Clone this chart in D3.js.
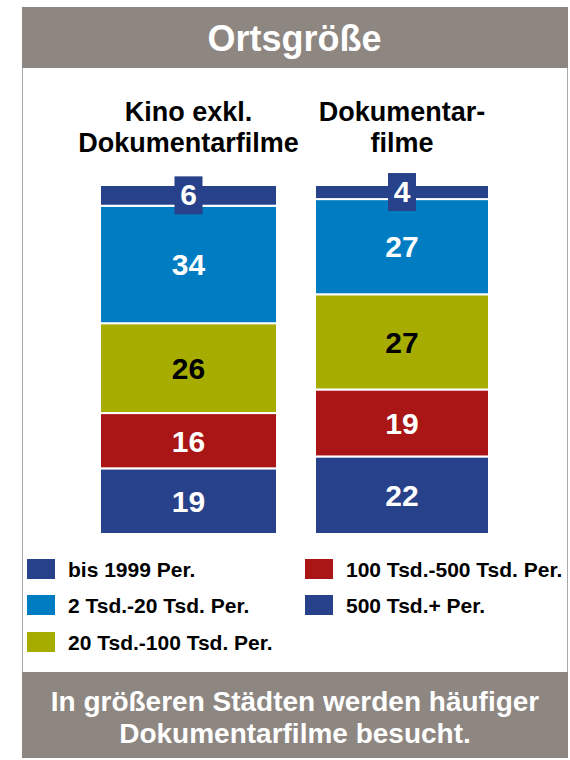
<!DOCTYPE html>
<html>
<head>
<meta charset="utf-8">
<script src="https://cdn.jsdelivr.net/npm/d3@7"></script>
<style>
  body { margin: 0; background: #fff; }
  text { font-family: "Liberation Sans", Arial, sans-serif; font-weight: bold; }
</style>
</head>
<body>
<script>
'use strict';

// data =======================
var groups = ['kino', 'doku'];
var groupTitles = [['Kino exkl.', 'Dokumentarfilme'], ['Dokumentar-', 'filme']];
// stacked bottom -> top
var seriesKeys = ['s500', 's100', 's20', 's2', 'bis'];
var seriesNames = ['500 Tsd.+ Per.', '100 Tsd.-500 Tsd. Per.', '20 Tsd.-100 Tsd. Per.', '2 Tsd.-20 Tsd. Per.', 'bis 1999 Per.'];
var seriesColors = ['#27418a', '#aa1515', '#a6ad00', '#007cc2', '#27418a'];
var kinoValues = [19, 16, 26, 34, 6];
var dokuValues = [22, 19, 27, 27, 4];
// legend order as in picture
var legendOrder = ['bis', 's2', 's20', 's100', 's500'];

var width = 570, height = 760;
var gray = '#8d8681';

var svg = d3.select('body').append('svg')
  .attr('width', width)
  .attr('height', height);

// frame
svg.append('rect')
  .attr('x', 22.5).attr('y', 7.5)
  .attr('width', 545).attr('height', 750)
  .attr('fill', '#fff')
  .attr('stroke', '#a9a9a9')
  .attr('stroke-width', 1);

// header
svg.append('rect').attr('x', 22).attr('y', 7).attr('width', 546).attr('height', 61).attr('fill', gray);
svg.append('text')
  .attr('x', 294.5).attr('y', 51)
  .attr('text-anchor', 'middle')
  .attr('fill', '#fff')
  .style('font-size', '36px')
  .text('Ortsgröße');

// footer
svg.append('rect').attr('x', 22).attr('y', 672).attr('width', 546).attr('height', 86).attr('fill', gray);
svg.append('text')
  .attr('x', 295).attr('y', 711)
  .attr('text-anchor', 'middle')
  .attr('fill', '#fff')
  .style('font-size', '28px')
  .text('In größeren Städten werden häufiger');
svg.append('text')
  .attr('x', 295).attr('y', 743)
  .attr('text-anchor', 'middle')
  .attr('fill', '#fff')
  .style('font-size', '28px')
  .text('Dokumentarfilme besucht.');

// stacked bars ===============
var table = groups.map(function (g, i) {
  var vals = i === 0 ? kinoValues : dokuValues;
  var row = { group: g };
  seriesKeys.forEach(function (k, j) { row[k] = vals[j]; });
  return row;
});

var stack = d3.stack().keys(seriesKeys).offset(d3.stackOffsetExpand);
var layers = stack(table);

var x = d3.scaleOrdinal().domain(groups).range([100, 315]);
var barW = d3.scaleOrdinal().domain(groups).range([177, 174]);
var y = d3.scaleLinear().domain([0, 1]).range([534, 185]);
var color = d3.scaleOrdinal().domain(seriesKeys).range(seriesColors);

var layerG = svg.selectAll('g.layer')
  .data(layers)
  .enter().append('g')
  .attr('class', 'layer');

layerG.selectAll('rect')
  .data(function (d) { return d.map(function (p) { p.key = d.key; return p; }); })
  .enter().append('rect')
  .attr('x', function (d) { return x(d.data.group); })
  .attr('width', function (d) { return barW(d.data.group); })
  .attr('y', function (d) { return y(d[1]); })
  .attr('height', function (d) { return y(d[0]) - y(d[1]); })
  .attr('fill', function (d) { return color(d.key); })
  .attr('stroke', '#fff')
  .attr('stroke-width', 2);

// labels
layerG.each(function (layer) {
  var g = d3.select(this);
  layer.forEach(function (p) {
    var cx = x(p.data.group) + barW(p.data.group) / 2;
    var cy = (y(p[0]) + y(p[1])) / 2;
    var val = p.data[layer.key];
    if (layer.key === 'bis') {
      // small segment: label in a box
      g.append('rect')
        .attr('x', cx - 14).attr('y', cy - 19)
        .attr('width', 28).attr('height', 38)
        .attr('fill', color(layer.key));
      cy = cy - 1;
    }
    g.append('text')
      .attr('x', cx).attr('y', cy)
      .attr('dy', '0.36em')
      .attr('text-anchor', 'middle')
      .attr('fill', layer.key === 's20' ? '#000' : '#fff')
      .style('font-size', '30px')
      .text(val);
  });
});

// group titles
groups.forEach(function (g, i) {
  var cx = x(g) + barW(g) / 2;
  groupTitles[i].forEach(function (line, j) {
    svg.append('text')
      .attr('x', cx).attr('y', 121 + j * 31)
      .attr('text-anchor', 'middle')
      .attr('fill', '#000')
      .style('font-size', '27px')
      .text(line);
  });
});

// legend =====================
var legendPos = [[27, 569], [27, 605], [27, 642], [305, 569], [305, 605]];
legendOrder.forEach(function (k, i) {
  var idx = seriesKeys.indexOf(k);
  var pos = legendPos[i];
  svg.append('rect')
    .attr('x', pos[0]).attr('y', pos[1] - 10)
    .attr('width', 28).attr('height', 20)
    .attr('fill', seriesColors[idx]);
  svg.append('text')
    .attr('x', pos[0] + 41).attr('y', pos[1])
    .attr('dy', '0.36em')
    .attr('fill', '#000')
    .style('font-size', '21px')
    .text(seriesNames[idx]);
});
</script>
</body>
</html>
